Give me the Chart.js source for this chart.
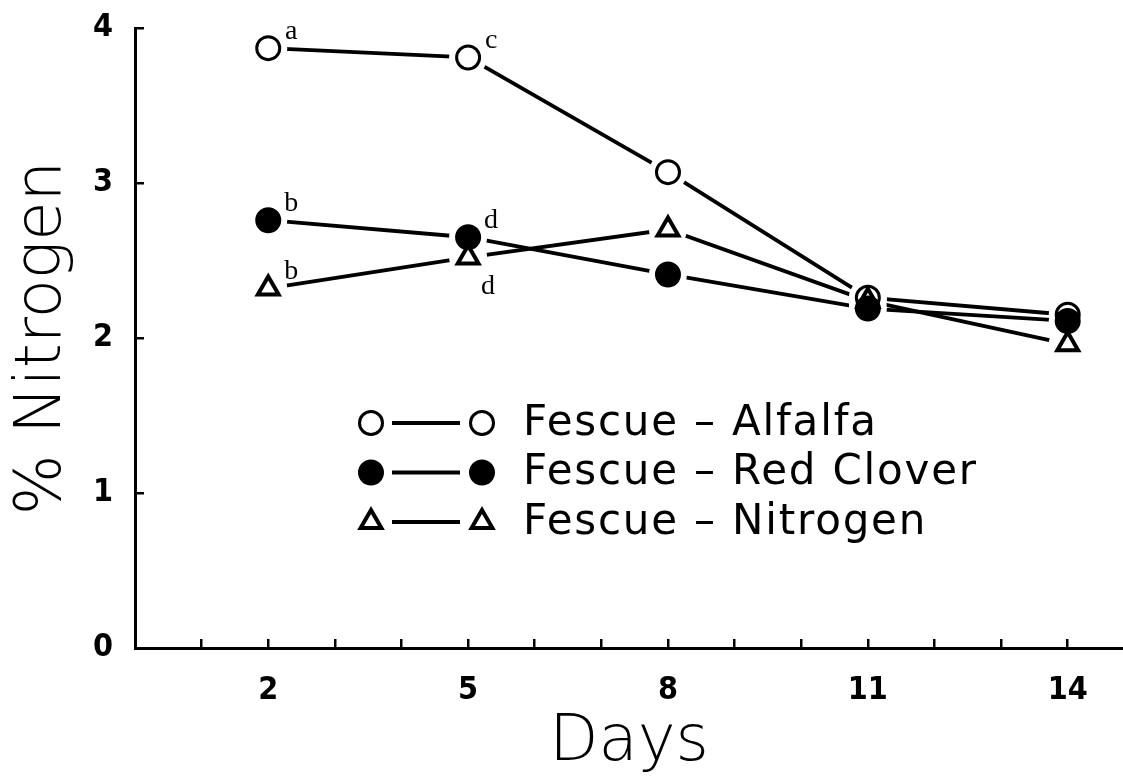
<!DOCTYPE html>
<html>
<head>
<meta charset="utf-8">
<script src="https://cdn.jsdelivr.net/npm/chart.js@4.4.1/dist/chart.umd.min.js"></script>
<style>
  html, body { margin: 0; padding: 0; background: #fff; }
  canvas { display: block; }
</style>
</head>
<body>
<canvas id="nChart" width="1123" height="777"></canvas>
<script>
// data
const days = [2, 5, 8, 11, 14]
const seriesNames = ['Fescue – Alfalfa', 'Fescue – Red Clover', 'Fescue – Nitrogen']
const alfalfa = [3.87, 3.81, 3.07, 2.26, 2.15]
const redClover = [2.76, 2.65, 2.41, 2.19, 2.11]
const nitrogen = [2.32, 2.52, 2.70, 2.24, 1.96]
const xTickLabels = [2, 5, 8, 11, 14]
const xRange = [0, 14.83]
const yRange = [0, 4]
// significance letters: series index, day, letter, side of the point
const letters = [
  [0, 2, 'a', 'above'],
  [0, 5, 'c', 'above'],
  [1, 2, 'b', 'above'],
  [1, 5, 'd', 'above'],
  [2, 2, 'b', 'above'],
  [2, 5, 'd', 'below'],
]

const seriesValues = [alfalfa, redClover, nitrogen]
const markerStyles = [
  { pointStyle: 'circle', radius: 11.5, fill: '#fff', border: 3, drawOrder: 3 },
  { pointStyle: 'circle', radius: 11.5, fill: '#000', border: 3, drawOrder: 1 },
  { pointStyle: 'triangle', radius: 12, fill: '#fff', border: 4, drawOrder: 2 },
]

const tickFont = { family: "'Liberation Sans Narrow', 'DejaVu Sans Condensed', sans-serif", weight: 'bold', size: 32 }
const titleFont = { family: "'DejaVu Sans', sans-serif", weight: '200', size: 64 }

const toPoints = values => values.map((v, i) => ({ x: days[i], y: v }))

const datasets = []
seriesValues.forEach((values, i) => {
  // connecting line, drawn first
  datasets.push({
    label: seriesNames[i] + ' line',
    data: toPoints(values),
    showLine: true,
    borderColor: '#000',
    borderWidth: 3.8,
    pointRadius: 0,
    order: 20,
  })
  // white halo so the line stops short of the symbol
  datasets.push({
    label: seriesNames[i] + ' halo',
    data: toPoints(values),
    showLine: false,
    pointStyle: 'circle',
    pointRadius: 19,
    pointHoverRadius: 19,
    pointBackgroundColor: '#fff',
    pointBorderWidth: 0,
    order: 10,
  })
  const st = markerStyles[i]
  datasets.push({
    label: seriesNames[i],
    data: toPoints(values),
    showLine: false,
    pointStyle: st.pointStyle,
    pointRadius: st.radius,
    pointHoverRadius: st.radius,
    pointBackgroundColor: st.fill,
    pointBorderColor: '#000',
    pointBorderWidth: st.border,
    order: st.drawOrder,
  })
})

function drawSymbol(ctx, st, x, y) {
  ctx.save()
  ctx.fillStyle = st.fill
  ctx.strokeStyle = '#000'
  ctx.lineWidth = st.border
  ctx.beginPath()
  if (st.pointStyle === 'circle') {
    ctx.arc(x, y, st.radius, 0, Math.PI * 2)
  } else {
    const r = st.radius
    ctx.moveTo(x, y - r)
    ctx.lineTo(x + r * Math.sin(Math.PI * 2 / 3), y + r / 2)
    ctx.lineTo(x - r * Math.sin(Math.PI * 2 / 3), y + r / 2)
    ctx.closePath()
  }
  ctx.fill()
  ctx.stroke()
  ctx.restore()
}

// legend box inside the plot: symbol — symbol  name
const legendBox = { x1: 371, lineStart: 392, lineEnd: 460, x2: 482, textX: 523, top: 423, rowGap: 49.5 }
const legendRows = {
  id: 'legendRows',
  afterDraw(chart) {
    const ctx = chart.ctx
    seriesNames.forEach((name, i) => {
      const y = legendBox.top + i * legendBox.rowGap
      const st = markerStyles[i]
      ctx.save()
      ctx.strokeStyle = '#000'
      ctx.lineWidth = 4
      ctx.beginPath()
      ctx.moveTo(legendBox.lineStart, y)
      ctx.lineTo(legendBox.lineEnd, y)
      ctx.stroke()
      ctx.restore()
      drawSymbol(ctx, st, legendBox.x1, y)
      drawSymbol(ctx, st, legendBox.x2, y)
      ctx.save()
      ctx.fillStyle = '#000'
      ctx.font = "42px 'DejaVu Sans', sans-serif"
      ctx.letterSpacing = '1.8px'
      ctx.textBaseline = 'middle'
      ctx.textAlign = 'left'
      ctx.fillText(name, legendBox.textX, y + 1)
      ctx.restore()
    })
  }
}

const letterMarks = {
  id: 'letterMarks',
  afterDatasetsDraw(chart) {
    const ctx = chart.ctx
    const xs = chart.scales.x
    const ys = chart.scales.y
    ctx.save()
    ctx.fillStyle = '#000'
    ctx.font = "28px 'Liberation Serif', serif"
    ctx.textAlign = 'center'
    ctx.textBaseline = 'alphabetic'
    letters.forEach(([s, day, txt, side]) => {
      const idx = days.indexOf(day)
      const px = xs.getPixelForValue(day)
      const py = ys.getPixelForValue(seriesValues[s][idx])
      if (side === 'above') ctx.fillText(txt, px + 23, py - 9)
      else ctx.fillText(txt, px + 20, py + 37)
    })
    ctx.restore()
  }
}

new Chart(document.getElementById('nChart'), {
  type: 'scatter',
  data: { datasets },
  options: {
    responsive: false,
    devicePixelRatio: 1,
    animation: false,
    events: [],
    layout: { autoPadding: false, padding: { top: 28, right: 0, bottom: 0, left: 0 } },
    plugins: {
      legend: { display: false },
      tooltip: { enabled: false },
    },
    scales: {
      x: {
        type: 'linear',
        min: xRange[0],
        max: xRange[1],
        afterFit: s => { s.height = 129; s.paddingLeft = 0; s.paddingRight = 0 },
        ticks: {
          stepSize: 1,
          includeBounds: false,
          autoSkip: false,
          maxRotation: 0,
          padding: 32,
          color: '#000',
          font: tickFont,
          callback: v => xTickLabels.includes(v) ? String(v) : '',
        },
        grid: { drawOnChartArea: false, drawTicks: true, tickLength: -9, color: '#000', lineWidth: 2.5 },
        border: { color: '#000', width: 3 },
        title: { display: true, text: 'Days', color: '#000', font: titleFont, padding: { top: 0, bottom: -5 } },
      },
      y: {
        min: yRange[0],
        max: yRange[1],
        afterFit: s => { s.width = 135; s.paddingTop = 0; s.paddingBottom = 0 },
        ticks: { stepSize: 1, padding: 31, color: '#000', font: tickFont },
        grid: { drawOnChartArea: false, drawTicks: true, tickLength: -9, color: '#000', lineWidth: 2.5 },
        border: { color: '#000', width: 3 },
        title: { display: true, text: '% Nitrogen', color: '#000', font: titleFont, padding: { top: 5, bottom: 0 } },
      },
    },
  },
  plugins: [letterMarks, legendRows],
})
</script>
</body>
</html>
